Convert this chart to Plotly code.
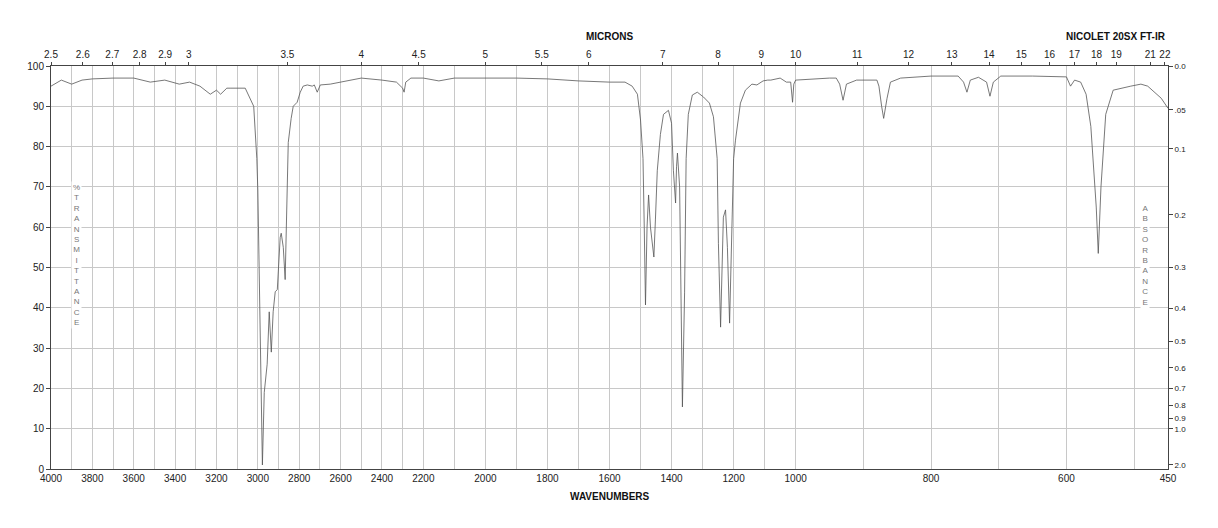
import numpy as np
import plotly.graph_objects as go

# spectrum (wavenumber cm-1, %T)
wavenumber = [4000, 3950, 3900, 3850, 3800, 3700, 3600, 3520, 3450, 3380,
              3330, 3280, 3230, 3200, 3180, 3150, 3130, 3061, 3020, 3005,
              3000, 2988, 2978, 2969, 2955, 2945, 2935, 2926, 2916, 2906,
              2892, 2887, 2877, 2868, 2863, 2853, 2839, 2829, 2810, 2795,
              2781, 2761, 2737, 2727, 2713, 2698, 2650, 2553, 2500, 2400,
              2330, 2300, 2293, 2285, 2260, 2200, 2150, 2100, 2000, 1900,
              1800, 1700, 1600, 1550, 1527, 1510, 1500, 1492, 1488, 1484,
              1479, 1474, 1468, 1457, 1452, 1446, 1436, 1426, 1410, 1400,
              1394, 1387, 1384, 1381, 1374, 1369, 1365, 1358, 1353, 1346,
              1333, 1317, 1297, 1278, 1265, 1253, 1249, 1242, 1236, 1233,
              1226, 1220, 1213, 1207, 1200, 1194, 1188, 1178, 1162, 1141,
              1125, 1105, 1090, 1080, 1050, 1030, 1016, 1010, 1006, 1000,
              950, 940, 935, 930, 925, 910, 880, 877, 873, 870,
              865, 860, 845, 800, 760, 752, 747, 742, 730, 718,
              713, 708, 697, 650, 600, 594, 588, 579, 571, 564,
              556, 553, 549, 542, 531, 520, 505, 490, 480, 460, 450]
transmittance = [95, 96.5, 95.5, 96.5, 96.8, 97, 97, 96, 96.5, 95.5,
                 96, 95, 93, 94, 93, 94.5, 94.5, 94.5, 90, 77,
                 69, 30, 1, 19, 26, 39, 29, 39, 44, 44.5,
                 57.5, 58.5, 55, 47, 58.5, 81, 87, 90, 91, 93.5,
                 95, 95.3, 95, 95.3, 93.5, 95.3, 95.5, 96.5, 97, 96.5,
                 96, 94.5, 93.5, 96, 97, 97, 96.3, 97, 97, 97,
                 96.8, 96.3, 96, 96, 95, 93, 86.6, 77, 60, 40.7,
                 60, 68, 60, 52.6, 61.8, 74, 83, 88, 89, 85.8,
                 74, 66, 75, 78.4, 70, 43.7, 15.4, 43.7, 77, 88,
                 92.8, 93.5, 92.3, 90.8, 87.4, 77, 56, 35.2, 52, 62.5,
                 64.3, 55, 36.2, 56, 77, 81.6, 85, 90.8, 94, 95.5,
                 95.3, 96.3, 96.5, 96.5, 97, 96, 96, 91, 95.5, 96.5,
                 97, 97, 95.5, 91.5, 95.5, 96.5, 96.5, 95, 90, 87,
                 92, 96, 97, 97.5, 97.5, 96, 93.5, 96.5, 97.2, 96,
                 92.5, 96, 97.5, 97.5, 97.3, 95, 96.5, 96, 93, 85,
                 65, 53.5, 70, 88, 94, 94.5, 95, 95.5, 95, 92, 89.5]

wn_labels = [4000, 3800, 3600, 3400, 3200, 3000, 2800, 2600, 2400, 2200, 2000, 1800, 1600,
             1400, 1200, 1000, 800, 600, 450]
micron_labels = [2.5, 2.6, 2.7, 2.8, 2.9, 3, 3.5, 4, 4.5, 5, 5.5, 6, 7, 8, 9, 10, 11, 12, 13,
                 14, 15, 16, 17, 18, 19, 21, 22]
abs_labels = [0.0, 0.05, 0.1, 0.2, 0.3, 0.4, 0.5, 0.6, 0.7, 0.8, 0.9, 1.0, 2.0]
abs_text = ['0.0', '.05', '0.1', '0.2', '0.3', '0.4', '0.5', '0.6', '0.7', '0.8', '0.9', '1.0', '2.0']

# chart x scale: three equal-width linear segments
def wpos(w):
    return np.interp(-np.asarray(w, dtype=float), [-4000, -2200, -1000, -450], [0, 1, 2, 3])

grid_wn = list(range(4000, 400, -100)) + [450]
grid_text = [str(w) if w in wn_labels else '' for w in grid_wn]

fig = go.Figure()
fig.add_trace(go.Scatter(x=wpos(wavenumber), y=transmittance, mode='lines',
                         line=dict(color='#555555', width=0.8), showlegend=False))
fig.add_trace(go.Scatter(x=[0, 3], y=[None, None], xaxis='x2', yaxis='y2', showlegend=False))

font = dict(family='Liberation Sans, Arial', size=10, color='#222')
fig.update_layout(
    width=1218, height=528,
    margin=dict(l=43, r=58, t=58, b=67),
    plot_bgcolor='white', paper_bgcolor='white',
    font=font,
    xaxis=dict(range=[0, 3], tickvals=wpos(grid_wn), ticktext=grid_text,
               showgrid=True, gridcolor='#c8c8c8', gridwidth=1,
               showline=True, linecolor='#444', mirror=False, zeroline=False,
               ticks='', tickfont=font),
    xaxis2=dict(range=[0, 3], overlaying='x', side='top', tickvals=wpos([10000 / m for m in micron_labels]),
                ticktext=[f'{m:g}' for m in micron_labels], showgrid=False,
                showline=True, linecolor='#444', ticks='outside', ticklen=3,
                tickcolor='#444', tickfont=font),
    yaxis=dict(range=[0, 100], dtick=10, showgrid=True, gridcolor='#c8c8c8',
               showline=True, linecolor='#444', ticks='outside', ticklen=4,
               tickcolor='#444', zeroline=False, tickfont=font),
    yaxis2=dict(range=[0, 100], overlaying='y', side='right',
                tickvals=[100 * 10 ** (-a) for a in abs_labels], ticktext=abs_text,
                showgrid=False, showline=True, linecolor='#444', ticks='outside',
                ticklen=4, tickcolor='#444', tickfont=dict(family='Liberation Sans, Arial', size=8, color='#222')),
)

bold = dict(family='Liberation Sans, Arial', size=10, color='#111')
fig.add_annotation(text='<b>MICRONS</b>', x=0.5, y=1, xref='paper', yref='paper',
                   yshift=22, showarrow=False, font=bold, xanchor='center', yanchor='bottom')
fig.add_annotation(text='<b>NICOLET 20SX FT-IR</b>', x=1, y=1, xref='paper', yref='paper',
                   yshift=22, showarrow=False, font=bold, xanchor='right', yanchor='bottom')
fig.add_annotation(text='<b>WAVENUMBERS</b>', x=0.5, y=0, xref='paper', yref='paper',
                   yshift=-20, showarrow=False, font=bold, xanchor='center', yanchor='top')
side = dict(family='Liberation Sans, Arial', size=8, color='#777')
fig.add_annotation(text='<br>'.join('%TRANSMITTANCE'), x=0.018, y=0.53, xref='paper', yref='paper',
                   showarrow=False, font=side, bgcolor='white')
fig.add_annotation(text='<br>'.join('ABSORBANCE'), x=0.984, y=0.53, xref='paper', yref='paper',
                   showarrow=False, font=side, bgcolor='white')

fig.write_html("out.html")
